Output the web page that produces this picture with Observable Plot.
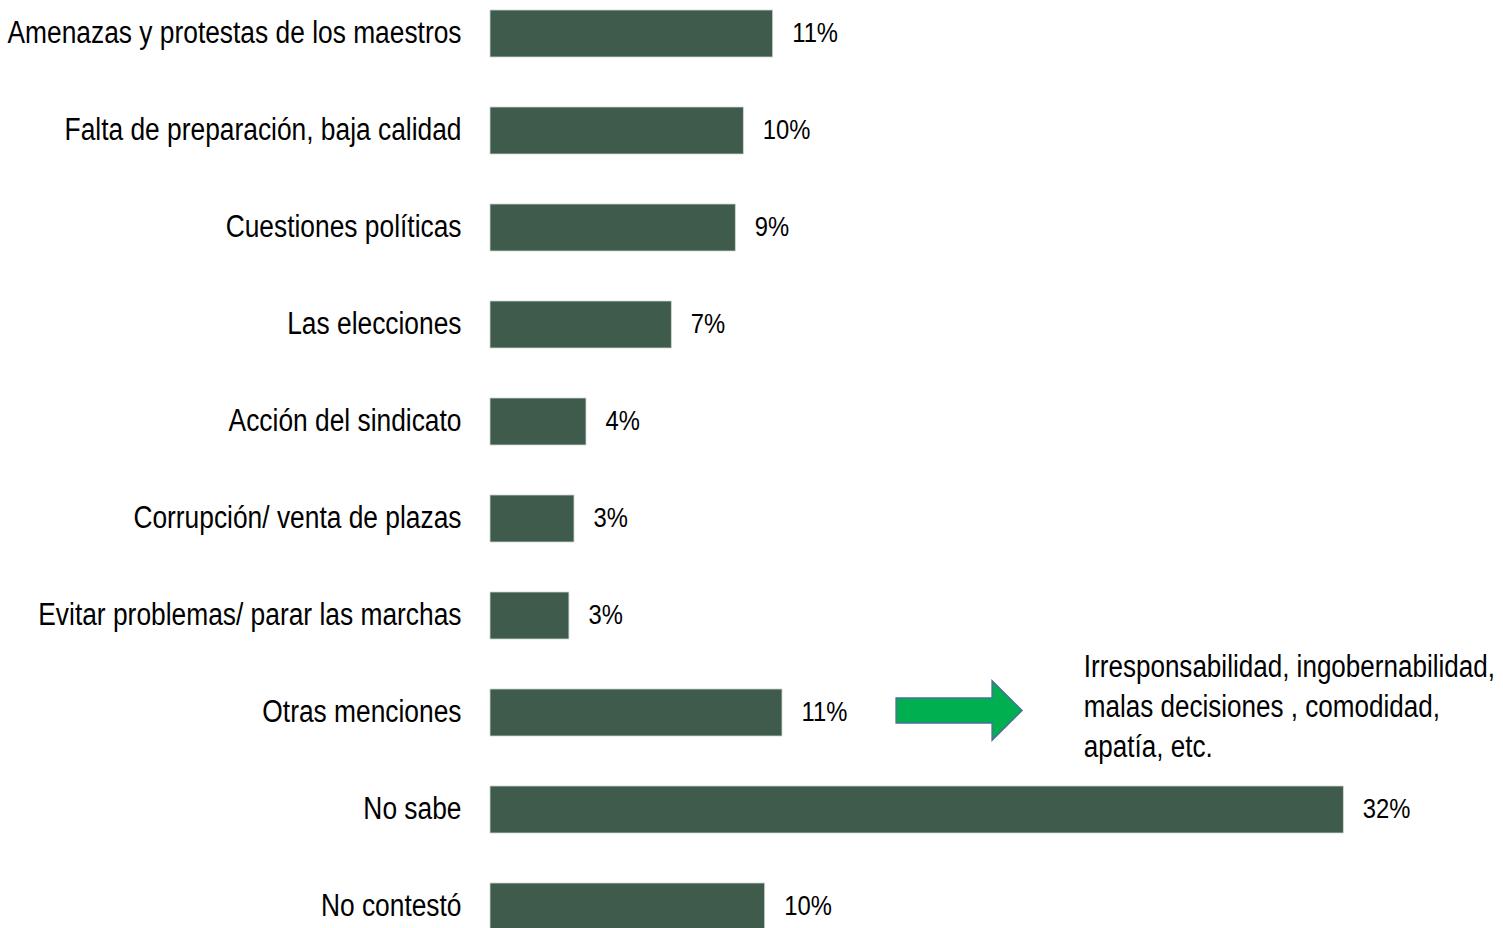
<!DOCTYPE html>
<html>
<head>
<meta charset="utf-8">
<script src="https://cdn.jsdelivr.net/npm/d3@7"></script>
<script src="https://cdn.jsdelivr.net/npm/@observablehq/plot@0.6"></script>
<style>
  html, body { margin: 0; padding: 0; background: #fff; }
  #chart svg { display: block; }
</style>
</head>
<body>
<div id="chart"></div>
<script>
const categories = [
  "Amenazas y protestas de los maestros",
  "Falta de preparación, baja calidad",
  "Cuestiones políticas",
  "Las elecciones",
  "Acción del sindicato",
  "Corrupción/ venta de plazas",
  "Evitar problemas/ parar las marchas",
  "Otras menciones",
  "No sabe",
  "No contestó"
];
const values = [10.6, 9.5, 9.2, 6.8, 3.6, 3.15, 2.96, 10.95, 32.0, 10.3];
const valueLabels = ["11%", "10%", "9%", "7%", "4%", "3%", "3%", "11%", "32%", "10%"];

const noteCategory = "Otras menciones";
const noteText = "Irresponsabilidad, ingobernabilidad,\nmalas decisiones , comodidad,\napatía, etc.";
const noteX = 22.25;
const arrowFrom = 15.23;
const arrowNeck = 18.83;
const arrowTo = 19.95;

const data = categories.map((c, i) => ({category: c, value: values[i], label: valueLabels[i]}));

const FONT = "'Liberation Sans', Arial, sans-serif";
const NARROW = 0.85;

function blockArrow(index, scales, vals, dims, context) {
  const x = scales.x, y = scales.y;
  const bw = y.bandwidth ? y.bandwidth() : 47;
  const cy = y(noteCategory) + bw / 2 - 2;
  const x0 = x(arrowFrom), xn = x(arrowNeck), x1 = x(arrowTo);
  const sh = bw * 0.265, hh = bw * 0.63;
  const pts = [[x0, cy - sh], [xn, cy - sh], [xn, cy - hh], [x1, cy], [xn, cy + hh], [xn, cy + sh], [x0, cy + sh]];
  const g = d3.create("svg:g");
  g.append("polygon")
    .attr("points", pts.map(p => p.join(",")).join(" "))
    .attr("fill", "#00b050")
    .attr("stroke", "#4a6f96")
    .attr("stroke-width", 1.5);
  return g.node();
}

const plot = Plot.plot({
  width: 1503,
  height: 928,
  marginLeft: 490,
  marginRight: 53,
  marginTop: 0,
  marginBottom: 0,
  style: {fontFamily: FONT, background: "#fff", color: "#000"},
  x: {domain: [0, 36], axis: null},
  y: {domain: categories, range: [8.5, 931.2], padding: 0.517, paddingOuter: 0, label: null},
  marks: [
    Plot.axisY({tickSize: 0, tickPadding: 29, fontSize: 31, label: null, fill: "#000", dy: -1}),
    Plot.barX(data, {x: "value", y: "category", fill: "#3f5b4b", stroke: "#cfd6d2", strokeWidth: 0.8}),
    Plot.text(data, {x: "value", y: "category", text: "label", textAnchor: "start", dx: 19, dy: -1, fontSize: 28, fill: "#000"}),
    blockArrow,
    Plot.text([noteText], {x: noteX, y: [noteCategory], text: d => d, textAnchor: "start", dy: -9, fontSize: 31, lineHeight: 1.3, fill: "#000"})
  ]
});
document.getElementById("chart").appendChild(plot);

// Narrow the glyphs horizontally to mimic the condensed face of the original.
plot.querySelectorAll("text").forEach(t => {
  const spans = t.querySelectorAll("tspan");
  const targets = spans.length ? Array.from(spans) : [t];
  const factor = spans.length ? 0.84 : NARROW;
  targets.forEach(el => {
    const len = el.getComputedTextLength();
    if (len > 0) {
      el.setAttribute("textLength", (len * factor).toFixed(2));
      el.setAttribute("lengthAdjust", "spacingAndGlyphs");
    }
  });
});
</script>
</body>
</html>
